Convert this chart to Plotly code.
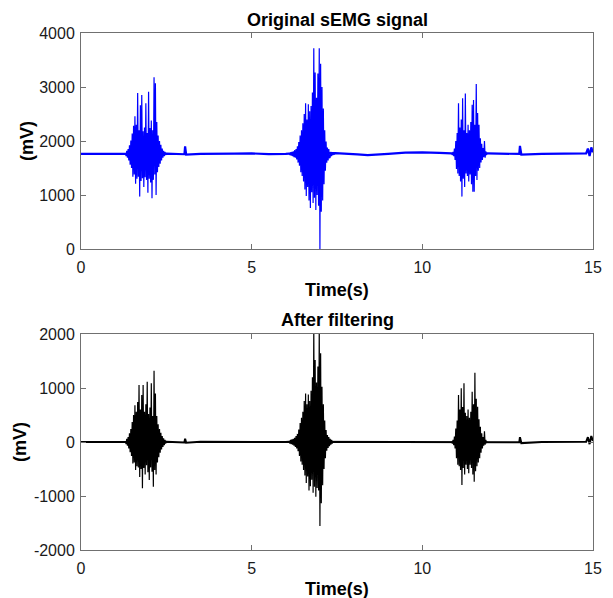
import numpy as np
import plotly.graph_objects as go
from plotly.subplots import make_subplots

# ---------------- data ----------------
SAMPLE_DT = 0.02  # s, spacing of the burst samples

# Original signal: slow baseline (mV)
raw_base_t = [0, 0.5, 1.0, 1.3, 2.5, 3.0, 3.03, 3.05, 3.08, 3.5, 4.0, 4.5, 5.0, 5.5, 6.0, 6.1,
              7.45, 7.8, 8.1, 8.4, 8.7, 9.0, 9.5, 10.0, 10.5, 10.86, 11.9, 12.4, 12.84, 12.86,
              12.9, 13.5, 14.0, 14.5, 14.8, 14.85, 14.9, 14.95, 15.0]
raw_base_v = [1760, 1765, 1758, 1762, 1765, 1760, 1755, 1900, 1750, 1762, 1760, 1768, 1770, 1758, 1762, 1768,
              1775, 1770, 1752, 1738, 1742, 1760, 1785, 1790, 1780, 1770, 1770, 1765, 1760, 1910,
              1750, 1762, 1760, 1765, 1770, 1860, 1720, 1880, 1790]

# Original signal: bursts (start time, samples every SAMPLE_DT)
raw_burst1_t0 = 1.30
raw_burst1 = [1780, 1720, 1820, 1690, 1850, 1640, 1920, 1560, 2010, 1500,
              2140, 1340, 2280, 1380, 2460, 1210, 2300, 1300, 2890, 1340,
              2200, 970, 2660, 1260, 2850, 1310, 2180, 1150, 2250, 1330,
              2700, 1280, 2150, 1040, 2910, 1300, 2240, 1230, 2380, 940,
              2200, 1280, 3180, 1380, 3070, 1000, 2350, 1420, 2100, 1520,
              2000, 1580, 1930, 1640, 1860, 1690, 1820, 1720, 1800, 1740, 1770]
raw_burst2_t0 = 6.10
raw_burst2 = [1770, 1740, 1790, 1730, 1800, 1720, 1810, 1700, 1830, 1690,
              1850, 1660, 1900, 1600, 1980, 1540, 2100, 1420, 2200, 1350,
              2330, 1250, 2500, 1100, 2700, 980, 2400, 1150, 2680, 900,
              2550, 760, 2650, 1050, 2900, 850, 3716, 950, 3270, 720,
              2800, 1000, 3250, 800, 3716, 0, 3430, 690, 3000, 900,
              2600, 1200, 2200, 1450, 1990, 1600, 1880, 1640, 1850, 1680,
              1700, 1800, 1720, 1790, 1740, 1780, 1750, 1770]
raw_burst3_t0 = 10.86
raw_burst3 = [1770, 1740, 1800, 1720, 1860, 1650, 2000, 1480, 2150, 1400,
              2700, 1350, 2250, 1250, 2400, 970, 2790, 1300, 2200, 1150,
              2880, 1400, 2150, 1350, 2300, 1250, 2200, 1380, 2350, 1200,
              2670, 1060, 2760, 1060, 2300, 1350, 3055, 1280, 2520, 1450,
              2300, 1500, 2050, 1600, 1950, 1650, 1870, 1700, 2000, 1690,
              1810, 1740, 1780]

# Filtered signal: baseline (mV)
flt_base_t = [0, 0.5, 1.0, 1.3, 2.5, 3.0, 3.03, 3.05, 3.08, 3.5, 4.0, 5.0, 6.0, 6.1,
              7.4, 8.0, 9.0, 10.0, 10.86, 11.9, 12.4, 12.84, 12.86, 12.9, 13.5, 14.0,
              14.5, 14.8, 14.85, 14.9, 14.95, 15.0]
flt_base_v = [0, 5, -3, 2, 4, 0, -10, 60, -15, 3, 0, 4, -2, 3,
              2, -3, 2, 0, 0, 3, 0, -5, 90, -20, 2, 0,
              3, 5, 90, -40, 110, 20]

flt_burst1_t0 = 1.30
flt_burst1 = [20, -40, 60, -70, 90, -120, 160, -190, 240, -260,
              370, -400, 500, -380, 680, -520, 560, -450, 740, -470,
              1055, -650, 600, -500, 870, -857, 1055, -480, 560, -600,
              700, -430, 1117, -560, 520, -704, 640, -470, 1087, -550,
              480, -827, 1320, -520, 900, -600, 480, -380, 330, -280,
              240, -200, 170, -140, 110, -90, 70, -60, 40, -30, 20]
flt_burst2_t0 = 6.10
flt_burst2 = [20, -30, 40, -40, 50, -50, 60, -70, 80, -90,
              110, -120, 150, -170, 230, -260, 350, -360, 450, -420,
              560, -520, 760, -620, 900, -760, 700, -640, 880, -900,
              760, -820, 950, -700, 1200, -940, 2100, -830, 1518, -1012,
              1100, -850, 1400, -900, 2100, -1555, 1642, -1135, 1024, -800,
              700, -500, 400, -300, 220, -160, 130, -110, 90, -80,
              60, -50, 40, -30, 20]
flt_burst3_t0 = 10.86
flt_burst3 = [10, -30, 40, -60, 100, -120, 250, -300, 400, -420,
              870, -450, 600, -520, 994, -796, 650, -480, 1087, -600,
              540, -420, 480, -500, 600, -580, 450, -420, 560, -480,
              932, -600, 700, -735, 1284, -540, 800, -450, 654, -380,
              420, -300, 280, -200, 160, -120, 90, -70, 200, -50,
              40, -20, 10]

x_ticks = [0, 5, 10, 15]
raw_y_ticks = [0, 1000, 2000, 3000, 4000]
flt_y_ticks = [-2000, -1000, 0, 1000, 2000]
flt_y_ticktext = ["-2000", "-1000", "0", "1000", "2000"]

title_top = "Original sEMG signal"
title_bottom = "After filtering"
x_label = "Time(s)"
y_label = "(mV)"

# ---------------- figure ----------------
# The page body adds an 8 px offset; positions below are in screenshot pixels.
OFF = 8
W, H = 613 - OFF, 598 - OFF
PLOT_X0, PLOT_X1 = 81, 593          # screenshot px of x=0 and x=15
TOP_Y0, TOP_Y1 = 33, 249            # top panel box (screenshot px)
BOT_Y0, BOT_Y1 = 334, 550           # bottom panel box (screenshot px)
L = PLOT_X0 - OFF
R = W - (PLOT_X1 - OFF)
T = TOP_Y0 - OFF
B = H - (BOT_Y1 - OFF)
plot_h = H - T - B
plot_w = W - L - R


def py2paper(py):
    return (BOT_Y1 - py) / plot_h


def px2paper(px):
    return (px - PLOT_X0) / plot_w


def burst_times(t0, vals):
    return np.round(t0 + SAMPLE_DT * np.arange(len(vals)), 4)


fig = make_subplots(rows=2, cols=1)
top_dom = [py2paper(TOP_Y1), 1.0]
bot_dom = [0.0, py2paper(BOT_Y0)]

BLUE = "#0000ff"
BLACK = "#000000"

fig.add_trace(go.Scatter(x=raw_base_t, y=raw_base_v, mode="lines",
                         line=dict(color=BLUE, width=2.2), hoverinfo="skip"), row=1, col=1)
for t0, vals in [(raw_burst1_t0, raw_burst1), (raw_burst2_t0, raw_burst2), (raw_burst3_t0, raw_burst3)]:
    fig.add_trace(go.Scatter(x=burst_times(t0, vals), y=vals, mode="lines",
                             line=dict(color=BLUE, width=1.2), hoverinfo="skip"), row=1, col=1)

fig.add_trace(go.Scatter(x=flt_base_t, y=flt_base_v, mode="lines",
                         line=dict(color=BLACK, width=2), hoverinfo="skip"), row=2, col=1)
for t0, vals in [(flt_burst1_t0, flt_burst1), (flt_burst2_t0, flt_burst2), (flt_burst3_t0, flt_burst3)]:
    fig.add_trace(go.Scatter(x=burst_times(t0, vals), y=vals, mode="lines",
                             line=dict(color=BLACK, width=1.2), hoverinfo="skip"), row=2, col=1)

FONT = "Arial, 'Liberation Sans', Helvetica, sans-serif"
AXCOL = "#707070"
axis_common = dict(showline=True, linecolor=AXCOL, linewidth=1, mirror="ticks",
                   ticks="inside", ticklen=5, tickcolor=AXCOL, tickwidth=1,
                   showgrid=False, zeroline=False,
                   tickfont=dict(family=FONT, size=16, color="#1a1a1a"))

fig.update_xaxes(range=[0, 15], tickvals=x_ticks, ticklabelstandoff=4, **axis_common)
fig.update_yaxes(ticklabelstandoff=2, **axis_common)
fig.update_layout(
    yaxis=dict(domain=top_dom, range=[0, 4000], tickvals=raw_y_ticks),
    yaxis2=dict(domain=bot_dom, range=[-2000, 2000], tickvals=flt_y_ticks,
                ticktext=flt_y_ticktext),
)

annots = [
    (f"<b>{title_top}</b>", 337, 20),
    (f"<b>{title_bottom}</b>", 337, 320),
    (f"<b>{x_label}</b>", 337, 290),
    (f"<b>{x_label}</b>", 337, 589),
]
for text, xx, yy in annots:
    fig.add_annotation(text=text, x=px2paper(xx), y=py2paper(yy), xref="paper", yref="paper",
                       xanchor="center", yanchor="middle", showarrow=False,
                       font=dict(family=FONT, size=18, color="#000000"))
for xx, yy in [(27, 141), (20, 442)]:
    fig.add_annotation(text=f"<b>{y_label}</b>", x=px2paper(xx), y=py2paper(yy),
                       xref="paper", yref="paper", xanchor="center", yanchor="middle",
                       textangle=-90, showarrow=False,
                       font=dict(family=FONT, size=18, color="#000000"))

fig.update_layout(width=W, height=H, margin=dict(l=L, r=R, t=T, b=B),
                  paper_bgcolor="white", plot_bgcolor="white", showlegend=False)

fig.write_html("out.html")
